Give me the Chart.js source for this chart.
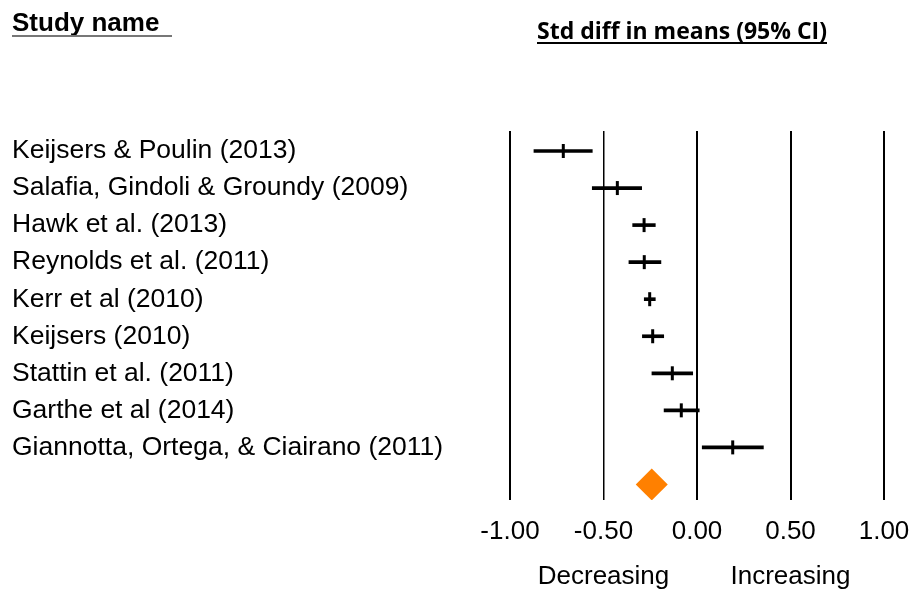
<!DOCTYPE html>
<html>
<head>
<meta charset="utf-8">
<script src="https://cdn.jsdelivr.net/npm/chart.js@4"></script>
<style>
  html, body { margin: 0; padding: 0; background: #fff; }
  canvas { display: block; }
</style>
</head>
<body>
<canvas id="forest" width="915" height="601"></canvas>
<script>
// study rows, top to bottom
const studies = [
  "Keijsers & Poulin (2013)",
  "Salafia, Gindoli & Groundy (2009)",
  "Hawk et al. (2013)",
  "Reynolds et al. (2011)",
  "Kerr et al (2010)",
  "Keijsers (2010)",
  "Stattin et al. (2011)",
  "Garthe et al (2014)",
  "Giannotta, Ortega, & Ciairano (2011)"
];
const effect = [-0.715, -0.426, -0.283, -0.282, -0.253, -0.237, -0.132, -0.084, 0.191];
const lower  = [-0.872, -0.560, -0.344, -0.364, -0.282, -0.292, -0.241, -0.176, 0.028];
const upper  = [-0.560, -0.296, -0.223, -0.193, -0.223, -0.178, -0.023, 0.012, 0.355];
const summaryEffect = -0.242;
const xTicks = [-1, -0.5, 0, 0.5, 1];
const directionLabels = ["Decreasing", "Increasing"];
const directionAt = [-0.5, 0.5];

const FONT = "'Liberation Sans', Arial, sans-serif";
const summaryRow = studies.length;

const headerPlugin = {
  id: "headers",
  afterDraw(chart) {
    const ctx = chart.ctx;
    const x = chart.scales.x;
    ctx.save();
    ctx.fillStyle = "#000";

    // left header
    ctx.font = "bold 26px " + FONT;
    ctx.textAlign = "left";
    ctx.textBaseline = "alphabetic";
    ctx.fillText("Study name", 12, 31);
    ctx.fillStyle = "#777";
    ctx.fillRect(12, 35, 160, 2);

    // right header, squeezed to look like Calibri bold
    ctx.fillStyle = "#000";
    ctx.font = "bold 24px 'Open Sans', Lato, sans-serif";
    let txt = "Std diff in means (95% CI)";
    let w = ctx.measureText(txt).width;
    let target = 290;
    ctx.save();
    ctx.translate(537, 39);
    ctx.scale(target / w, 1);
    ctx.fillText(txt, 0, 0);
    ctx.restore();
    ctx.fillRect(537, 42, target, 2);

    // direction labels under the axis
    ctx.font = "26px " + FONT;
    ctx.textAlign = "center";
    ctx.textBaseline = "middle";
    directionLabels.forEach((lab, i) => {
      ctx.fillText(lab, x.getPixelForValue(directionAt[i]), 577);
    });
    ctx.restore();
  }
};

const ctx = document.getElementById("forest").getContext("2d");
const chart = new Chart(ctx, {
  type: "bar",
  data: {
    datasets: [
      {
        label: "95% CI",
        indexAxis: "y",
        data: studies.map((s, i) => ({ y: i, x: [lower[i], upper[i]] })),
        backgroundColor: "#000",
        borderWidth: 0,
        barThickness: 3,
        order: 2
      },
      {
        type: "scatter",
        label: "Std diff in means",
        data: studies.map((s, i) => ({ x: effect[i], y: i })),
        pointStyle: "line",
        rotation: 90,
        radius: 7,
        borderWidth: 3,
        borderColor: "#000",
        order: 1
      },
      {
        type: "scatter",
        label: "Summary",
        data: [{ x: summaryEffect, y: summaryRow }],
        pointStyle: "rectRot",
        radius: 16,
        backgroundColor: "#FF8000",
        borderWidth: 0,
        order: 0
      }
    ]
  },
  plugins: [headerPlugin],
  options: {
    responsive: false,
    animation: false,
    layout: { padding: { left: 12, right: 31, top: 131, bottom: 0 } },
    plugins: {
      legend: { display: false },
      tooltip: { enabled: false }
    },
    scales: {
      x: {
        type: "linear",
        min: -1,
        max: 1,
        offset: false,
        afterBuildTicks: (scale) => { scale.ticks = xTicks.map(v => ({ value: v })); },
        afterFit: (scale) => {
          scale.height = 101;
          scale.paddingLeft = 0;
          scale.paddingRight = 0;
        },
        ticks: {
          color: "#000",
          font: { family: FONT, size: 26 },
          padding: 16,
          callback: (v) => Number(v).toFixed(2)
        },
        grid: {
          color: "#000",
          offset: false,
          lineWidth: (c) => (c.tick && c.tick.value === -0.5 ? 1.5 : 2),
          drawTicks: false
        },
        border: { display: false }
      },
      y: {
        type: "linear",
        reverse: true,
        offset: false,
        min: -0.54,
        max: 9.42,
        afterBuildTicks: (scale) => { scale.ticks = studies.map((s, i) => ({ value: i })); },
        afterFit: (scale) => {
          scale.width = 498;
          scale.paddingTop = 0;
          scale.paddingBottom = 0;
        },
        ticks: {
          color: "#000",
          font: { family: FONT, size: 26.5 },
          crossAlign: "far",
          padding: 0,
          autoSkip: false,
          callback: (v) => studies[v]
        },
        grid: { display: false, offset: false, drawTicks: false },
        border: { display: false }
      }
    }
  }
});
</script>
</body>
</html>
